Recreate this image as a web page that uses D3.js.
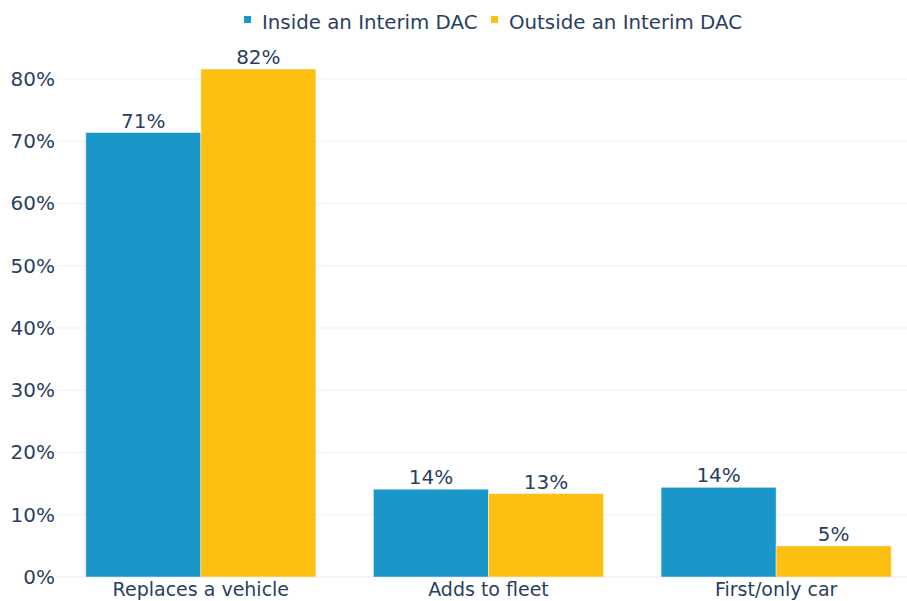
<!DOCTYPE html>
<html>
<head>
<meta charset="utf-8">
<script src="https://cdn.jsdelivr.net/npm/d3@7"></script>
<style>
  html, body { margin: 0; padding: 0; background: #fff; }
  svg { display: block; }
  svg text { font-family: "DejaVu Sans", Verdana, sans-serif; }
</style>
</head>
<body>
<svg id="chart" width="907" height="601"></svg>
<script>
// Purpose of the EV purchase, by location relative to an Interim DAC
const categories = ["Replaces a vehicle", "Adds to fleet", "First/only car"];
const seriesNames = ["Inside an Interim DAC", "Outside an Interim DAC"];
const insideValues = [0.714, 0.141, 0.144];
const outsideValues = [0.816, 0.134, 0.050];
const yTicks = [0, 0.1, 0.2, 0.3, 0.4, 0.5, 0.6, 0.7, 0.8];
const colors = ["#1b96c8", "#fdbf11"];

const svg = d3.select("#chart");
const margin = { left: 57, right: -13, top: 30, bottom: 24 };
const W = 907, H = 601;
const textColor = "#2a3f5f";
const fontSize = "19px";
const numberFontSize = "20px";

const x = d3.scaleBand()
  .domain(categories)
  .range([margin.left, W - margin.right])
  .paddingInner(0.2)
  .paddingOuter(0.1);

const y = d3.scaleLinear()
  .domain([0, 0.8])
  .range([577, 79]);

// Gridlines
svg.append("g")
  .selectAll("line")
  .data(yTicks)
  .join("line")
  .attr("x1", margin.left)
  .attr("x2", W)
  .attr("y1", d => y(d))
  .attr("y2", d => y(d))
  .attr("stroke", d => d === 0 ? "#e4e9f2" : "#eef1f7")
  .attr("stroke-width", 1);

// Y axis
const yAxis = svg.append("g")
  .attr("transform", `translate(${margin.left},0)`)
  .call(d3.axisLeft(y).tickValues(yTicks).tickFormat(d3.format(".0%")).tickSize(0).tickPadding(2));
yAxis.select(".domain").remove();
yAxis.attr("font-family", null).attr("font-size", null);
yAxis.selectAll("text")
  .attr("fill", textColor)
  .style("font-size", numberFontSize);

// X axis
const xAxis = svg.append("g")
  .attr("transform", `translate(0,${y(0)})`)
  .call(d3.axisBottom(x).tickSize(0).tickPadding(6));
xAxis.select(".domain").remove();
xAxis.attr("font-family", null).attr("font-size", null);
xAxis.selectAll("text")
  .attr("fill", textColor)
  .style("font-size", fontSize);

// Bars
const xs = d3.scaleBand()
  .domain(seriesNames)
  .range([0, x.bandwidth()]);

const rows = categories.map((c, i) => ({
  category: c,
  values: [
    { series: seriesNames[0], value: insideValues[i], color: colors[0] },
    { series: seriesNames[1], value: outsideValues[i], color: colors[1] }
  ]
}));

const groups = svg.append("g")
  .selectAll("g")
  .data(rows)
  .join("g")
  .attr("transform", d => `translate(${x(d.category)},0)`);

groups.selectAll("rect")
  .data(d => d.values)
  .join("rect")
  .attr("x", d => xs(d.series))
  .attr("width", xs.bandwidth())
  .attr("y", d => y(d.value))
  .attr("height", d => y(0) - y(d.value))
  .attr("fill", d => d.color)
  .attr("stroke", "rgba(255,255,255,0.45)")
  .attr("stroke-width", 1);

groups.selectAll("text")
  .data(d => d.values)
  .join("text")
  .attr("x", d => xs(d.series) + xs.bandwidth() / 2)
  .attr("y", d => y(d.value) - 5)
  .attr("text-anchor", "middle")
  .attr("fill", textColor)
  .style("font-size", numberFontSize)
  .text(d => d3.format(".0%")(d.value));

// Legend
const legendX = [244, 491];
seriesNames.forEach((name, i) => {
  const g = svg.append("g").attr("transform", `translate(${legendX[i]},0)`);
  g.append("rect")
    .attr("x", 0).attr("y", 16)
    .attr("width", 7).attr("height", 7)
    .attr("fill", colors[i]);
  g.append("text")
    .attr("x", 18).attr("y", 28.5)
    .attr("fill", textColor)
    .style("font-size", "19.8px")
    .text(name);
});
</script>
</body>
</html>
